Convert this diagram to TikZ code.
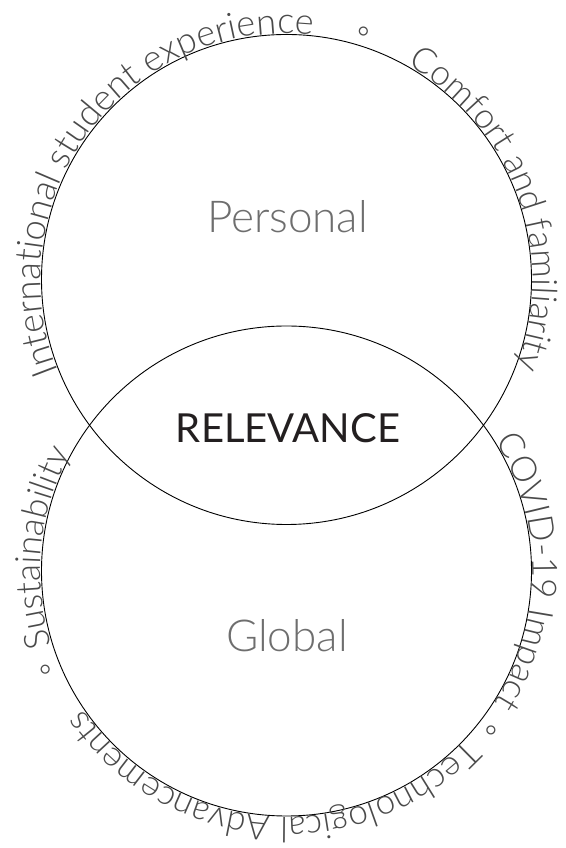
\documentclass[tikz,border=0pt]{standalone}
\usepackage{fontspec}
\setmainfont{Lato}
\newfontfamily\lightfont{Lato Light}
\newfontfamily\symfont{DejaVu Sans ExtraLight}
\usetikzlibrary{decorations.text,calc}
\definecolor{curvegray}{HTML}{4A4A4A}
\definecolor{labelgray}{HTML}{6E6E6E}
\definecolor{maindark}{HTML}{231F20}
\newcommand\curvefont{\lightfont\fontsize{35}{40}\selectfont}
\newcommand\curvefontb{\lightfont\fontsize{36.2}{41}\selectfont}
\newcommand\labelfont{\lightfont\fontsize{44}{50}\selectfont}
\newcommand\bulletfont{\symfont\fontsize{34}{40}\selectfont}
\begin{document}
\begin{tikzpicture}[x=1pt,y=1pt,
  ring/.style={circle, draw=black, line width=0.9pt, minimum size=490pt, inner sep=0pt},
  label/.style={font=\labelfont, text=labelgray, anchor=base, inner sep=0pt},
  bull/.style={font=\bulletfont, text=curvegray, inner sep=0pt},
  curve/.style={decorate, decoration={text along path, raise=1pt, text color=curvegray, text={#1}}}
]
\useasboundingbox (0,0) rectangle (565,848);
\coordinate (c1) at (286.5,568.5);
\coordinate (c2) at (286.5,277);
\node[ring] (topc) at (c1) {};
\node[ring] (botc) at (c2) {};

% top circle texts
\path[curve={|\curvefontb|International student experience}]
  ($(c1)+(202:245)$) arc[start angle=202, end angle=40, radius=245];
\node[bull, rotate=-17.3] (b1) at ($(c1)+(72.7:257)$) {∘};
\path[curve={|\curvefont|Comfort and familiarity}]
  ($(c1)+(60.7:245)$) arc[start angle=60.7, end angle=-80, radius=245];

% bottom circle texts
\path[curve={|\curvefont|COVID-19 Impact}]
  ($(c2)+(32:245)$) arc[start angle=32, end angle=-60, radius=245];
\node[bull, rotate=-127.9] (b2) at ($(c2)+(-37.9:257)$) {∘};
\path[curve={|\curvefont|Technological Advancements}]
  ($(c2)+(-43:245)$) arc[start angle=-43, end angle=-200, radius=245];
\node[bull, rotate=112.2] (b3) at ($(c2)+(202.2:257)$) {∘};
\path[curve={|\curvefont|Sustainability}]
  ($(c2)+(197.6:245)$) arc[start angle=197.6, end angle=100, radius=245];

% inner labels
\node[label] (personal) at (287.5,615) {Personal};
\node[label, font=\fontsize{40}{46}\selectfont, text=maindark] (relevance) at (288,405) {RELEVANCE};
\node[label] (global) at (287,196) {Global};
\end{tikzpicture}
\end{document}
